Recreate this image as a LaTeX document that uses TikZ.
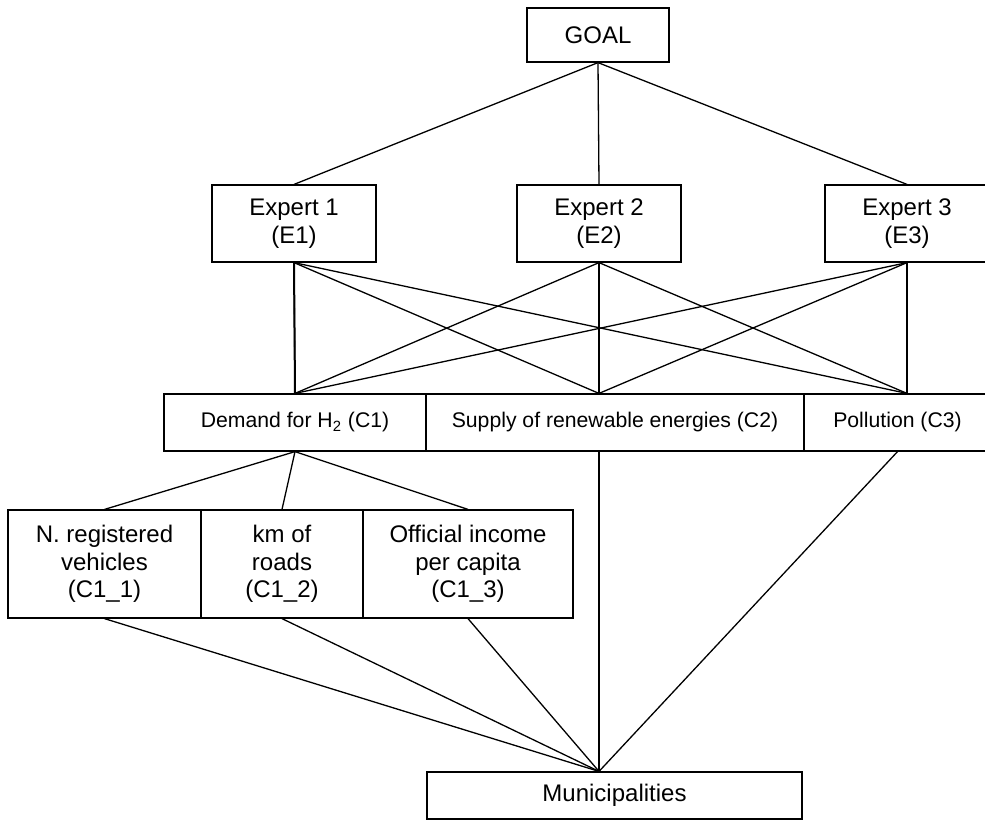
\documentclass[tikz,border=0pt]{standalone}
\usepackage{fontspec}
\setmainfont{Liberation Sans}
\usetikzlibrary{calc}

\tikzset{
  box/.style={draw,line width=0.6pt,inner sep=0pt,align=center,font=\fontsize{12}{13.8}\selectfont},
  crit/.style={box,minimum height=28.5pt,font=\fontsize{10.6}{12.7}\selectfont},
  link/.style={line width=0.65pt},
  spine/.style={line width=1pt}
}

\begin{document}
\begin{tikzpicture}[x=0.5pt,y=-0.5pt]
  \useasboundingbox (0,0) rectangle (985,821);
  % goal and experts
  \node[box,minimum width=71pt,minimum height=27pt] (goal) at (598,35){GOAL};
  \foreach \n/\x in {1/294,2/599,3/907}{
    \node[box,minimum width=82pt,minimum height=38.5pt] (e\n) at (\x,223.5){Expert \n\\(E\n)};
  }
  % criteria
  \node[crit,minimum width=131pt] (c1) at (295,422.5){Demand for H\textsubscript{2} (C1)};
  \node[crit,minimum width=189pt] (c2) at (615,422.5){Supply of renewable energies (C2)};
  \node[crit,minimum width=93.5pt] (c3) at (897.5,422.5){Pollution (C3)};
  % sub-criteria of C1
  \foreach \n/\x/\w/\txt in {1/104.5/96.5/{N. registered\\vehicles\\(C1\_1)},
                             2/282/81/{km of\\roads\\(C1\_2)},
                             3/468/105/{Official income\\per capita\\(C1\_3)}}{
    \node[box,minimum width=\w pt,minimum height=54pt] (s\n) at (\x,564){\txt};
  }
  \node[box,minimum width=187.5pt,minimum height=23.5pt] (muni) at (614.5,795.5){Municipalities};
  \coordinate (hub) at (e2.south |- muni.north);

  \foreach \e in {e1,e2,e3}{
    \draw[link] (goal.south) -- (\e.north);
  }
  \foreach \e in {e1,e2,e3}{
    \draw[link] (\e.south) -- (c1.north);
    \draw[link] (\e.south) -- (e2.south |- c2.north);
    \draw[link] (\e.south) -- (e3.south |- c3.north);
  }
  \draw[spine] (e1.south) -- (c1.north);
  \draw[spine] (e2.south) -- (e2.south |- c2.north);
  \draw[spine] (e3.south) -- (e3.south |- c3.north);

  \foreach \s in {s1,s2,s3}{
    \draw[link] (c1.south) -- (\s.north);
    \draw[link] (\s.south) -- (hub);
  }
  \draw[link] (e2.south |- c2.south) -- (hub);
  \draw[link] (c3.south) -- (hub);
\end{tikzpicture}
\end{document}
